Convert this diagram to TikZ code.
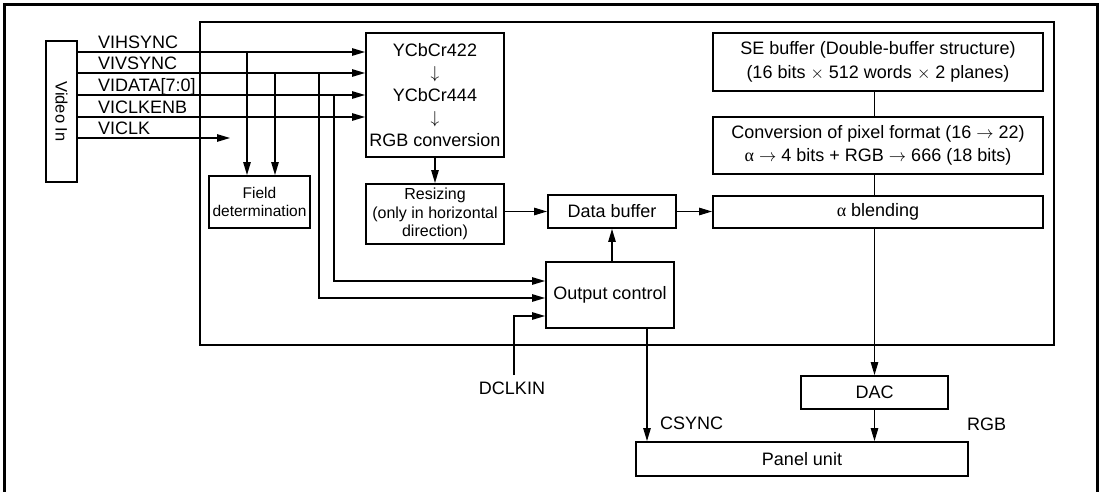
\documentclass[tikz,border=0pt]{standalone}
\usepackage{fontspec}
\setmainfont{Liberation Sans}
\newfontfamily\greekfont{Liberation Serif}
\usetikzlibrary{arrows.meta}
\newcommand{\ualpha}{{\greekfont α}}
\begin{document}
\begin{tikzpicture}[x=1pt,y=-1pt,
  box/.style={draw, line width=1.9pt, inner sep=0pt, align=center, font=\fontsize{18}{23}\selectfont},
  conn/.style={line width=1.2pt},
  arr/.style={conn, -{Triangle[length=13pt,width=7.5pt]}},
  lbl/.style={font=\fontsize{18}{22}\selectfont, inner sep=0pt}]
\useasboundingbox (0,0) rectangle (1103,492);
% frames
\draw[line width=2.4pt] (4.5,510) -- (4.5,4.5) -- (1097.5,4.5) -- (1097.5,510);
\draw[line width=1.9pt] (200,22) rectangle (1054,345);
% boxes
\node[box, minimum width=31pt, minimum height=141pt] (video) at (61.5,111.5) {};
\node[lbl, font=\fontsize{16.5}{18}\selectfont, rotate=-90] (vtxt) at (video.center) {Video In};
\node[box, minimum width=138pt, minimum height=124pt, font=\fontsize{18}{22.5}\selectfont] (ycc) at (435,95)
  {YCbCr422\\$\downarrow$\\YCbCr444\\$\downarrow$\\RGB conversion};
\node[box, minimum width=101pt, minimum height=52pt, font=\fontsize{15.5}{18.7}\selectfont] (field) at (259.5,202)
  {Field\\determination};
\node[box, minimum width=138pt, minimum height=60pt, font=\fontsize{16}{18.5}\selectfont] (resize) at (435,214)
  {Resizing\\(only in horizontal\\direction)};
\node[box, minimum width=128pt, minimum height=33pt] (databuf) at (612,211.5) {Data buffer};
\node[box, minimum width=128pt, minimum height=66pt] (outctl) at (610,295) {Output control};
\node[box, minimum width=330pt, minimum height=58pt, font=\fontsize{18}{24}\selectfont] (sebuf) at (878,62)
  {SE buffer (Double-buffer structure)\\(16 bits $\times$ 512 words $\times$ 2 planes)};
\node[box, minimum width=330pt, minimum height=57pt, font=\fontsize{18}{23}\selectfont] (conv) at (878,145.5)
  {Conversion of pixel format (16 $\rightarrow$ 22)\\\ualpha\ $\rightarrow$ 4 bits + RGB $\rightarrow$ 666 (18 bits)};
\node[box, minimum width=330pt, minimum height=32pt] (blend) at (878,212) {\ualpha\ blending};
\node[box, minimum width=147pt, minimum height=33pt] (dac) at (874.5,392.5) {DAC};
\node[box, minimum width=332pt, minimum height=34pt] (panel) at (802,459) {Panel unit};
% signal rows
\coordinate (yh) at (0,52);
\coordinate (yv) at (0,73);
\coordinate (yd) at (0,95);
\coordinate (ye) at (0,117);
\coordinate (yk) at (0,138);
\node[lbl, anchor=base west] (lh) at (98,49) {VIHSYNC};
\node[lbl, anchor=base west] (lv) at (98,70) {VIVSYNC};
\node[lbl, anchor=base west] (ld) at (98,92) {VIDATA[7:0]};
\node[lbl, anchor=base west] (le) at (98,114) {VICLKENB};
\node[lbl, anchor=base west] (lk) at (98,135) {VICLK};
\draw[arr] (video.east |- yh) -- (ycc.west |- yh);
\draw[arr] (video.east |- yv) -- (ycc.west |- yv);
\draw[arr] (video.east |- yd) -- (ycc.west |- yd);
\draw[arr] (video.east |- ye) -- (ycc.west |- ye);
\coordinate (clkend) at (230,138);
\draw[arr] (video.east |- yk) -- (clkend);
% drops to field determination
\coordinate (d1) at (247,52);
\coordinate (d2) at (275,73);
\draw[arr] (d1) -- (d1 |- field.north);
\draw[arr] (d2) -- (d2 |- field.north);
% long lines to output control
\coordinate (v1) at (319,73);
\coordinate (v2) at (334,95);
\coordinate (o1) at (0,281);
\coordinate (o2) at (0,298);
\coordinate (o3) at (0,316);
\draw[arr] (v2) |- (outctl.west |- o1);
\draw[arr] (v1) |- (outctl.west |- o2);
\node[lbl] (dclk) at (512,388) {DCLKIN};
\coordinate (dc) at (514,375);
\draw[arr] (dc) |- (outctl.west |- o3);
% main flow
\draw[arr] (ycc.south) -- (resize.north);
\draw[arr] (resize.east |- databuf.west) -- (databuf.west);
\draw[arr] (databuf.east) -- (blend.west |- databuf.east);
\draw[arr] (outctl.north -| databuf.south) -- (databuf.south);
\draw[conn] (sebuf.south -| dac.center) -- (conv.north -| dac.center);
\draw[conn] (conv.south -| dac.center) -- (blend.north -| dac.center);
\draw[arr] (blend.south -| dac.center) -- (dac.north);
\draw[arr] (dac.south) -- (dac.south |- panel.north);
\coordinate (cs) at (647,0);
\draw[arr] (outctl.south -| cs) -- (panel.north -| cs);
\node[lbl, anchor=west] (csync) at (660,423) {CSYNC};
\node[lbl, anchor=west] (rgb) at (967,424) {RGB};
\end{tikzpicture}
\end{document}
